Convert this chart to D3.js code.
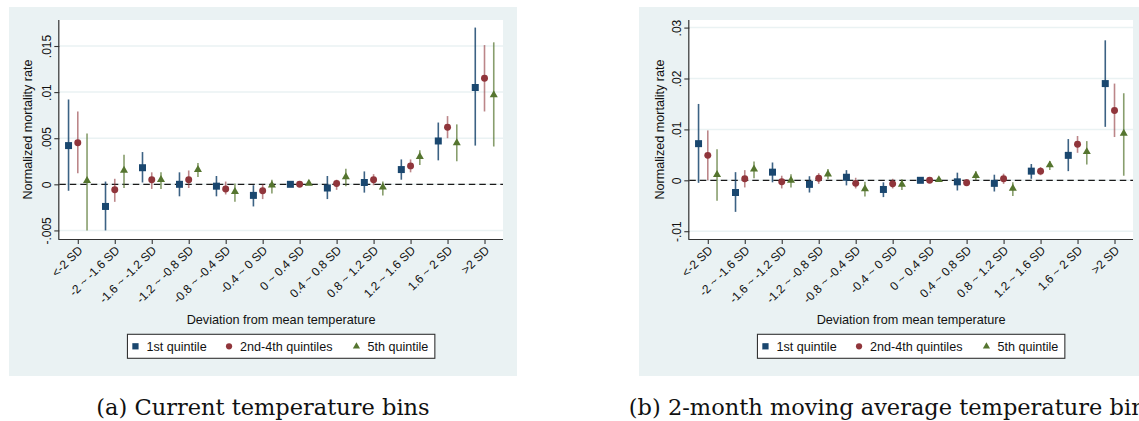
<!DOCTYPE html>
<html>
<head>
<meta charset="utf-8">
<script src="https://cdn.jsdelivr.net/npm/d3@7"></script>
<style>
  html, body { margin: 0; padding: 0; background: #ffffff; }
  svg { display: block; }
</style>
</head>
<body>
<svg id="fig" width="1139" height="421"></svg>
<script>
// Temperature-deviation bins on the x axis
const categories = ["<-2 SD", "-2 ~ -1.6 SD", "-1.6 ~ -1.2 SD", "-1.2 ~ -0.8 SD", "-0.8 ~ -0.4 SD",
  "-0.4 ~ 0 SD", "0 ~ 0.4 SD", "0.4 ~ 0.8 SD", "0.8 ~ 1.2 SD", "1.2 ~ 1.6 SD", "1.6 ~ 2 SD", ">2 SD"];

const seriesNames = ["1st quintile", "2nd-4th quintiles", "5th quintile"];

// Panel (a): current temperature bins — estimate, lower and upper bound per bin
const q1EstA  = [0.0042, -0.0024, 0.0018, 0.0000, -0.0002, -0.0012, 0, -0.0004, 0.0002, 0.0016, 0.0047, 0.0105];
const q1LoA   = [-0.0007, -0.0050, 0.0002, -0.0013, -0.0013, -0.0024, 0, -0.0016, -0.0009, 0.0005, 0.0026, 0.0042];
const q1HiA   = [0.0092, 0.0003, 0.0035, 0.0013, 0.0009, -0.0001, 0, 0.0009, 0.0014, 0.0027, 0.0067, 0.0170];
const midEstA = [0.0045, -0.0006, 0.0005, 0.0005, -0.0005, -0.0007, 0, 0.0001, 0.0005, 0.0020, 0.0062, 0.0115];
const midLoA  = [0.0012, -0.0019, -0.0005, -0.0004, -0.0011, -0.0016, 0, -0.0006, -0.0001, 0.0013, 0.0050, 0.0079];
const midHiA  = [0.0079, 0.0006, 0.0013, 0.0015, 0.0003, 0.0000, 0, 0.0005, 0.0011, 0.0027, 0.0074, 0.0151];
const q5EstA  = [0.0004, 0.0015, 0.0005, 0.0016, -0.0008, -0.0001, 0.0001, 0.0008, -0.0003, 0.0030, 0.0045, 0.0097];
const q5LoA   = [-0.0050, -0.0004, -0.0005, 0.0008, -0.0019, -0.0010, 0.0001, -0.0002, -0.0012, 0.0021, 0.0025, 0.0041];
const q5HiA   = [0.0055, 0.0032, 0.0013, 0.0023, 0.0001, 0.0005, 0.0001, 0.0017, 0.0003, 0.0037, 0.0065, 0.0154];
const yTicksA = [-0.005, 0, 0.005, 0.01, 0.015];
const yTickLabelsA = ["-.005", "0", ".005", ".01", ".015"];

// Panel (b): 2-month moving average temperature bins
const q1EstB  = [0.0072, -0.0024, 0.0016, -0.0008, 0.0006, -0.0018, 0, -0.0003, -0.0006, 0.0018, 0.0049, 0.0190];
const q1LoB   = [-0.0005, -0.0062, -0.0004, -0.0024, -0.0010, -0.0033, 0, -0.0020, -0.0022, 0.0003, 0.0018, 0.0105];
const q1HiB   = [0.0150, 0.0016, 0.0035, 0.0008, 0.0020, -0.0004, 0, 0.0015, 0.0011, 0.0032, 0.0081, 0.0275];
const midEstB = [0.0049, 0.0003, -0.0003, 0.0004, -0.0006, -0.0007, 0, -0.0005, 0.0003, 0.0018, 0.0071, 0.0137];
const midLoB  = [0.0000, -0.0014, -0.0016, -0.0007, -0.0016, -0.0016, 0, -0.0011, -0.0007, 0.0010, 0.0054, 0.0085];
const midHiB  = [0.0098, 0.0020, 0.0009, 0.0014, 0.0005, 0.0003, 0, 0.0002, 0.0013, 0.0026, 0.0087, 0.0190];
const q5EstB  = [0.0011, 0.0022, 0.0000, 0.0012, -0.0017, -0.0008, 0.0001, 0.0009, -0.0016, 0.0030, 0.0056, 0.0092];
const q5LoB   = [-0.0040, 0.0004, -0.0014, 0.0002, -0.0032, -0.0019, 0.0001, 0.0000, -0.0031, 0.0020, 0.0031, 0.0009];
const q5HiB   = [0.0061, 0.0037, 0.0012, 0.0022, -0.0003, 0.0002, 0.0001, 0.0018, -0.0004, 0.0038, 0.0077, 0.0171];
const yTicksB = [-0.01, 0, 0.01, 0.02, 0.03];
const yTickLabelsB = ["-.01", "0", ".01", ".02", ".03"];

const captionA = "(a) Current temperature bins";
const captionB = "(b) 2-month moving average temperature bins";
const xTitle = "Deviation from mean temperature";
const yTitle = "Normalized mortality rate";

// Styling
const colors = ["#1a476f", "#90353b", "#55752f"];
const ciOpacity = [0.85, 0.6, 0.7];
const symbols = [d3.symbolSquare, d3.symbolCircle, d3.symbolTriangle];
const symbolSizes = [49, 38, 28];
const offsets = [-0.25, 0, 0.25];
const bgColor = "#eaf2f3";
const sans = "'Liberation Sans', Arial, sans-serif";

const svg = d3.select("#fig");
svg.append("rect").attr("width", 1139).attr("height", 421).attr("fill", "#ffffff");

function drawPanel(cfg) {
  const g = svg.append("g");
  // outer graph region
  g.append("rect").attr("x", cfg.bg[0]).attr("y", 7).attr("width", cfg.bg[1] - cfg.bg[0]).attr("height", 369)
    .attr("fill", bgColor);

  const x = d3.scaleLinear().domain([-0.5, 11.5]).range([cfg.left, cfg.right]);
  const y = d3.scaleLinear().domain(cfg.yDomain).range([239, 20]);

  // plot region
  g.append("rect").attr("x", cfg.left).attr("y", 20).attr("width", cfg.right - cfg.left).attr("height", 219)
    .attr("fill", "#ffffff");

  // horizontal grid lines
  g.append("g").selectAll("line").data(cfg.yTicks).join("line")
    .attr("x1", cfg.left).attr("x2", cfg.right)
    .attr("y1", d => y(d)).attr("y2", d => y(d))
    .attr("stroke", bgColor).attr("stroke-width", 1.5);

  // zero reference line
  g.append("line")
    .attr("x1", cfg.left).attr("x2", cfg.right)
    .attr("y1", y(0)).attr("y2", y(0))
    .attr("stroke", "#1a1a1a").attr("stroke-width", 1.2).attr("stroke-dasharray", "6.5,4");

  // y axis
  const yAxis = d3.axisLeft(y).tickValues(cfg.yTicks)
    .tickFormat((d, i) => cfg.yLabels[i]).tickSize(5).tickPadding(4);
  const ya = g.append("g").attr("transform", `translate(${cfg.left},0)`).call(yAxis);
  ya.select(".domain").attr("d", `M-0.5,20V239`).attr("stroke", "#333").attr("stroke-width", 1.2);
  ya.selectAll(".tick line").attr("stroke", "#333").attr("stroke-width", 1.1);
  ya.selectAll(".tick text")
    .attr("font-family", sans).attr("font-size", 12).attr("fill", "#111")
    .attr("text-anchor", "middle")
    .attr("x", null).attr("dy", null)
    .attr("transform", "translate(-8,0) rotate(-90)");

  // x axis
  const xAxis = d3.axisBottom(x).tickValues(d3.range(categories.length))
    .tickFormat(i => categories[i]).tickSize(5);
  const xa = g.append("g").attr("transform", "translate(0,239)").call(xAxis);
  xa.select(".domain").attr("d", `M${cfg.left - 1},0.5H${cfg.right}`).attr("stroke", "#333").attr("stroke-width", 1.2);
  xa.selectAll(".tick line").attr("stroke", "#333").attr("stroke-width", 1.1);
  xa.selectAll(".tick text")
    .attr("font-family", sans).attr("font-size", 12).attr("fill", "#111")
    .attr("text-anchor", "end")
    .attr("y", null).attr("dy", null)
    .attr("transform", "translate(5,12) rotate(-45)");

  // confidence intervals and point estimates
  cfg.series.forEach((s, si) => {
    const pts = s.est.map((v, i) => ({ i, v, lo: s.lo[i], hi: s.hi[i] }));
    g.append("g").selectAll("line").data(pts.filter(p => p.hi !== p.lo)).join("line")
      .attr("x1", p => x(p.i + offsets[si])).attr("x2", p => x(p.i + offsets[si]))
      .attr("y1", p => y(p.lo)).attr("y2", p => y(p.hi))
      .attr("stroke", colors[si]).attr("stroke-opacity", ciOpacity[si]).attr("stroke-width", 1.6);
  });
  cfg.series.forEach((s, si) => {
    g.append("g").selectAll("path").data(s.est.map((v, i) => ({ i, v }))).join("path")
      .attr("d", d3.symbol(symbols[si], symbolSizes[si]))
      .attr("transform", p => `translate(${x(p.i + offsets[si])},${y(p.v)})`)
      .attr("fill", colors[si]);
  });

  // y title
  g.append("text")
    .attr("transform", `translate(${cfg.yTitleX},129.5) rotate(-90)`)
    .attr("text-anchor", "middle")
    .attr("font-family", sans).attr("font-size", 12.6).attr("fill", "#111")
    .text(yTitle);

  // x title
  const cx = (cfg.left + cfg.right) / 2;
  g.append("text")
    .attr("x", cx).attr("y", 323.5)
    .attr("text-anchor", "middle")
    .attr("font-family", sans).attr("font-size", 12.7).attr("fill", "#111")
    .text(xTitle);

  // legend
  const lx = cx - 153.7;
  const leg = g.append("g");
  leg.append("rect").attr("x", lx).attr("y", 334.3).attr("width", 307.4).attr("height", 24)
    .attr("fill", "#ffffff").attr("stroke", "#333").attr("stroke-width", 1.1);
  const itemX = [8, 101.6, 229];
  seriesNames.forEach((name, si) => {
    leg.append("path")
      .attr("d", d3.symbol(symbols[si], symbolSizes[si] * 0.8))
      .attr("transform", `translate(${lx + itemX[si]},${346.3})`)
      .attr("fill", colors[si]);
    leg.append("text")
      .attr("x", lx + itemX[si] + 11).attr("y", 350.8)
      .attr("font-family", sans).attr("font-size", 12.6).attr("fill", "#111")
      .text(name);
  });

  // caption
  svg.append("text")
    .attr("x", cfg.capX).attr("y", 414.5)
    .attr("text-anchor", "middle")
    .attr("font-family", "'DejaVu Serif', serif").attr("font-size", 22.5).attr("fill", "#111")
    .text(cfg.caption);
}

drawPanel({
  bg: [9, 517], left: 59.3, right: 503,
  yDomain: [-0.00593, 0.01782], yTicks: yTicksA, yLabels: yTickLabelsA,
  yTitleX: 32,
  series: [
    { est: q1EstA, lo: q1LoA, hi: q1HiA },
    { est: midEstA, lo: midLoA, hi: midHiA },
    { est: q5EstA, lo: q5LoA, hi: q5HiA }
  ],
  caption: captionA, capX: 263
});

drawPanel({
  bg: [639, 1145], left: 689.3, right: 1133,
  yDomain: [-0.01153, 0.03149], yTicks: yTicksB, yLabels: yTickLabelsB,
  yTitleX: 664,
  series: [
    { est: q1EstB, lo: q1LoB, hi: q1HiB },
    { est: midEstB, lo: midLoB, hi: midHiB },
    { est: q5EstB, lo: q5LoB, hi: q5HiB }
  ],
  caption: captionB, capX: 893
});
</script>
</body>
</html>
